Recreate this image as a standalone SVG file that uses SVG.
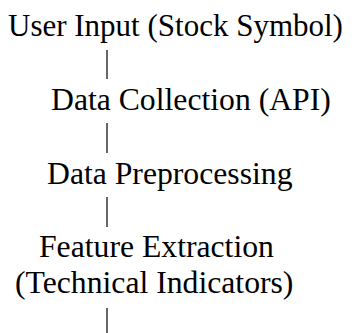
<svg xmlns="http://www.w3.org/2000/svg" width="354" height="333" viewBox="0 0 354 333">
<style>
text{font-family:'Liberation Serif','Times New Roman',serif;font-size:31.7px;fill:#000}
.c line{stroke:#000;stroke-width:1.2}
</style>
<rect width="354" height="333" fill="#fff"/>
<g id="n1"><text x="8" y="35.5" style="font-size:31px">User Input (Stock Symbol)</text></g>
<g id="n2"><text x="51" y="110">Data Collection (API)</text></g>
<g id="n3"><text x="47" y="183.5">Data Preprocessing</text></g>
<g id="n4"><text x="39" y="257">Feature Extraction</text><text x="15" y="293">(Technical Indicators)</text></g>
<g class="c" id="connectors">
<line x1="107" y1="50" x2="107" y2="79"/>
<line x1="107" y1="123" x2="107" y2="153"/>
<line x1="107" y1="197" x2="107" y2="227"/>
<line x1="107" y1="308" x2="107" y2="333"/>
</g>
</svg>
